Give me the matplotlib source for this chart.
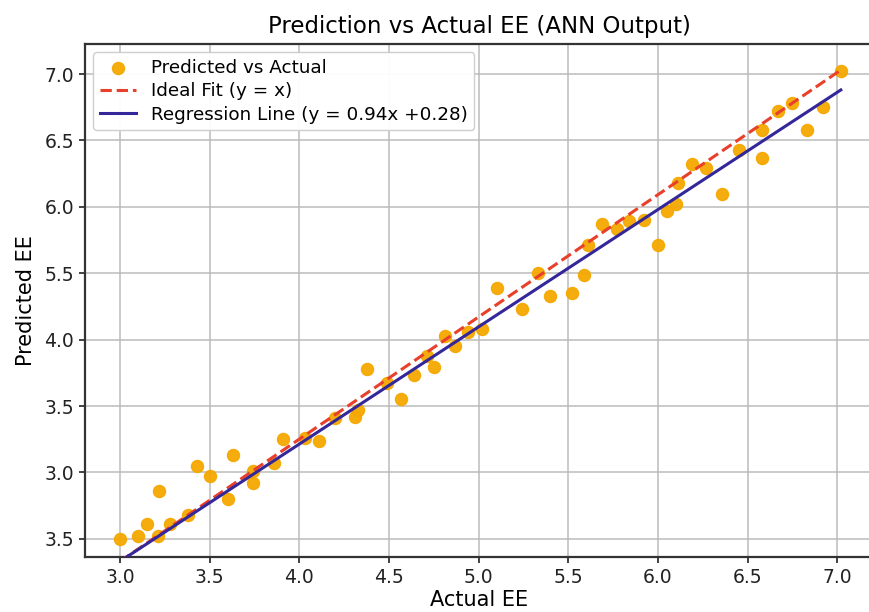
import matplotlib.pyplot as plt

# Data (x = actual EE, y = predicted EE in plotted units)
actual = [3.00, 3.10, 3.15, 3.22, 3.21, 3.28, 3.38, 3.43, 3.50, 3.60, 3.63, 3.74,
          3.74, 3.86, 3.91, 4.03, 4.11, 4.20, 4.31, 4.33, 4.38, 4.49, 4.57, 4.64,
          4.71, 4.75, 4.81, 4.87, 4.94, 5.02, 5.10, 5.24, 5.33, 5.40, 5.52, 5.59,
          5.61, 5.69, 5.77, 5.84, 5.92, 6.00, 6.05, 6.10, 6.11, 6.19, 6.27, 6.36,
          6.45, 6.58, 6.58, 6.67, 6.75, 6.83, 6.92, 7.02]
predicted = [3.50, 3.52, 3.61, 3.86, 3.52, 3.61, 3.68, 4.05, 3.97, 3.80, 4.13, 3.92,
             4.01, 4.07, 4.25, 4.26, 4.24, 4.41, 4.42, 4.47, 4.78, 4.67, 4.55, 4.73,
             4.88, 4.79, 5.03, 4.95, 5.06, 5.08, 5.39, 5.23, 5.50, 5.33, 5.35, 5.49,
             5.71, 5.87, 5.83, 5.89, 5.90, 5.71, 5.97, 6.02, 6.18, 6.32, 6.29, 6.10,
             6.43, 6.37, 6.58, 6.72, 6.78, 6.58, 6.75, 7.02]

# Line endpoints as drawn in the reference
fit_x = [3.0, 7.02]
ideal_y = [3.33, 7.03]
reg_y = [3.33, 6.88]

xticks = [3.0, 3.5, 4.0, 4.5, 5.0, 5.5, 6.0, 6.5, 7.0]
ytick_pos = [3.5, 4.0, 4.5, 5.0, 5.5, 6.0, 6.5, 7.0]
ytick_labels = ['3.5', '3.0', '3.5', '4.0', '5.5', '6.0', '6.5', '7.0']

fig = plt.figure(figsize=(8.69, 6.12), dpi=100)
ax = fig.add_axes([85 / 869, 55 / 612, 789 / 869, 513 / 612])

ax.scatter(actual, predicted, s=75, color='#F5A800', alpha=0.95, zorder=3,
           label='Predicted vs Actual')
ax.plot(fit_x, ideal_y, '--', color='#E8402A', linewidth=2.2, zorder=4,
        label='Ideal Fit (y = x)')
ax.plot(fit_x, reg_y, '-', color='#33279A', linewidth=2.2, zorder=4,
        label='Regression Line (y = 0.94x +0.28)')

ax.set_xlim(2.805, 7.205)
ax.set_ylim(3.363, 7.226)
ax.set_xticks(xticks)
ax.set_yticks(ytick_pos)
ax.set_yticklabels(ytick_labels)
ax.tick_params(labelsize=13.5, length=4, width=1.2, pad=4, colors='#222222')
ax.grid(True, color='#b8b8b8', linewidth=1.3, alpha=0.8)
ax.set_axisbelow(True)
for sp in ax.spines.values():
    sp.set_linewidth(1.6)
    sp.set_color('#333333')

ax.set_title('Prediction vs Actual EE (ANN Output)', fontsize=16.5, pad=8)
ax.set_xlabel('Actual EE', fontsize=15, labelpad=2)
ax.set_ylabel('Predicted EE', fontsize=15, labelpad=6)

ax.legend(loc='upper left', fontsize=13.2, framealpha=0.95, borderpad=0.35,
          handlelength=2.0, labelspacing=0.3, edgecolor='#cccccc',
          borderaxespad=0.45)

plt.savefig('out.png', dpi=100, facecolor='white')
plt.close()
